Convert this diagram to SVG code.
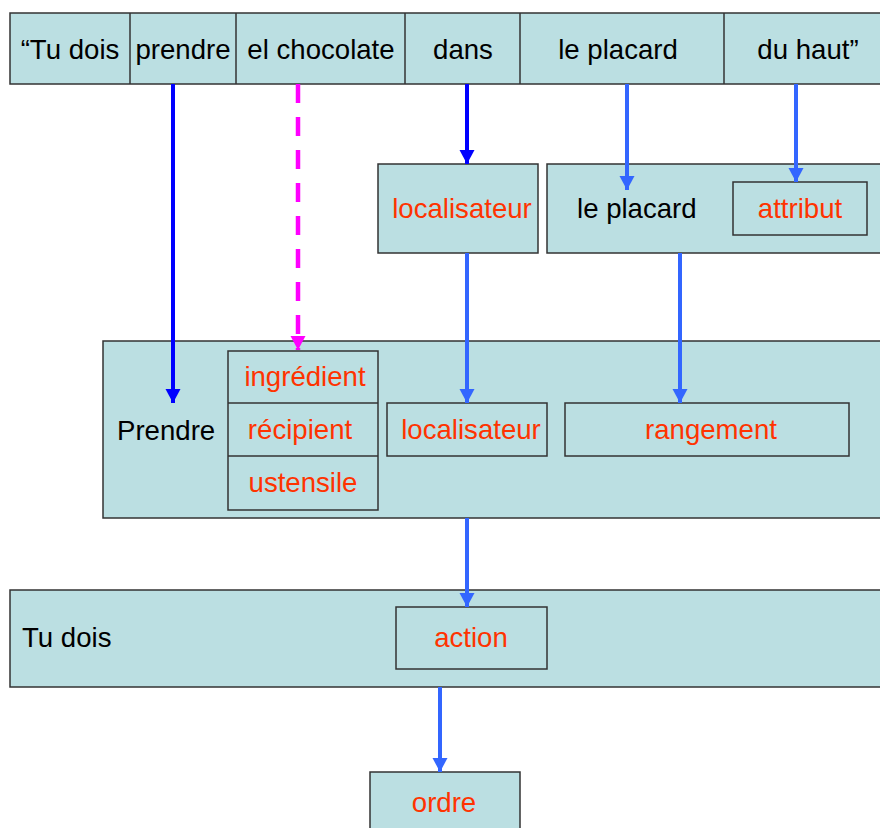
<svg xmlns="http://www.w3.org/2000/svg" width="880" height="828" viewBox="0 0 880 828">
<style>
.box{fill:#bbdfe2;stroke:#333;stroke-width:1.5}
.in{fill:none;stroke:#333;stroke-width:1.5}
.t{font-family:"Liberation Sans",Arial,sans-serif;font-size:27.6px;fill:#000}
.r{fill:#ff3300}
.m{text-anchor:middle}
.dk{stroke:#0000ff;stroke-width:4;fill:none}
.lb{stroke:#3366ff;stroke-width:4;fill:none}
.pk{stroke:#ff00ff;stroke-width:4.5;fill:none;stroke-dasharray:19 14}
</style>
<defs>
<marker id="aDk" markerUnits="userSpaceOnUse" markerWidth="16" markerHeight="16" viewBox="0 0 16 16" refX="14" refY="8" orient="auto"><path d="M0,0.5 L14,8 L0,15.5 Z" fill="#0000ff"/></marker>
<marker id="aLb" markerUnits="userSpaceOnUse" markerWidth="16" markerHeight="16" viewBox="0 0 16 16" refX="14" refY="8" orient="auto"><path d="M0,0.5 L14,8 L0,15.5 Z" fill="#3366ff"/></marker>
<marker id="aPk" markerUnits="userSpaceOnUse" markerWidth="16" markerHeight="16" viewBox="0 0 16 16" refX="14" refY="8" orient="auto"><path d="M0,0.5 L14,8 L0,15.5 Z" fill="#ff00ff"/></marker>
</defs>
<rect width="880" height="828" fill="#fff"/>

<g id="sentence">
<rect class="box" x="10" y="13" width="880" height="71"/>
<line class="in" x1="130" y1="13" x2="130" y2="84"/>
<line class="in" x1="236" y1="13" x2="236" y2="84"/>
<line class="in" x1="405" y1="13" x2="405" y2="84"/>
<line class="in" x1="520" y1="13" x2="520" y2="84"/>
<line class="in" x1="724" y1="13" x2="724" y2="84"/>
<text class="t m" x="70" y="59">“Tu dois</text>
<text class="t m" x="183" y="59">prendre</text>
<text class="t m" x="321" y="59">el chocolate</text>
<text class="t m" x="463" y="59">dans</text>
<text class="t m" x="618" y="59">le placard</text>
<text class="t m" x="808" y="59">du haut”</text>
</g>

<g id="localisateur1">
<rect class="box" x="378" y="164" width="160" height="89"/>
<text class="t r m" x="462" y="218">localisateur</text>
</g>

<g id="placard">
<rect class="box" x="547" y="164" width="345" height="89"/>
<text class="t" x="577" y="218">le placard</text>
<rect class="in" x="733" y="182" width="134" height="53"/>
<text class="t r m" x="800" y="218">attribut</text>
</g>

<g id="prendre">
<rect class="box" x="103" y="341" width="790" height="177"/>
<text class="t" x="117" y="440">Prendre</text>
<rect class="in" x="228" y="351" width="150" height="159"/>
<line class="in" x1="228" y1="403" x2="378" y2="403"/>
<line class="in" x1="228" y1="456" x2="378" y2="456"/>
<text class="t r m" x="305" y="386">ingrédient</text>
<text class="t r m" x="300" y="439">récipient</text>
<text class="t r m" x="303" y="492">ustensile</text>
<rect class="in" x="387" y="403" width="160" height="53"/>
<text class="t r m" x="471" y="439">localisateur</text>
<rect class="in" x="565" y="403" width="284" height="53"/>
<text class="t r m" x="711" y="439">rangement</text>
</g>

<g id="tudois">
<rect class="box" x="10" y="590" width="880" height="97"/>
<text class="t" x="22" y="647">Tu dois</text>
<rect class="in" x="396" y="607" width="151" height="62"/>
<text class="t r m" x="471" y="647">action</text>
</g>

<g id="ordre">
<rect class="box" x="370" y="772" width="150" height="70"/>
<text class="t r m" x="444" y="812">ordre</text>
</g>

<g id="connectors">
<line class="dk" x1="173" y1="84" x2="173" y2="403" marker-end="url(#aDk)"/>
<line class="pk" x1="298" y1="84" x2="298" y2="350" marker-end="url(#aPk)"/>
<line class="dk" x1="467" y1="84" x2="467" y2="164" marker-end="url(#aDk)"/>
<line class="lb" x1="627" y1="84" x2="627" y2="190" marker-end="url(#aLb)"/>
<line class="lb" x1="796" y1="84" x2="796" y2="182" marker-end="url(#aLb)"/>
<line class="lb" x1="467" y1="253" x2="467" y2="403" marker-end="url(#aLb)"/>
<line class="lb" x1="680" y1="253" x2="680" y2="403" marker-end="url(#aLb)"/>
<line class="lb" x1="467" y1="518" x2="467" y2="607" marker-end="url(#aLb)"/>
<line class="lb" x1="440" y1="687" x2="440" y2="772" marker-end="url(#aLb)"/>
</g>
</svg>
